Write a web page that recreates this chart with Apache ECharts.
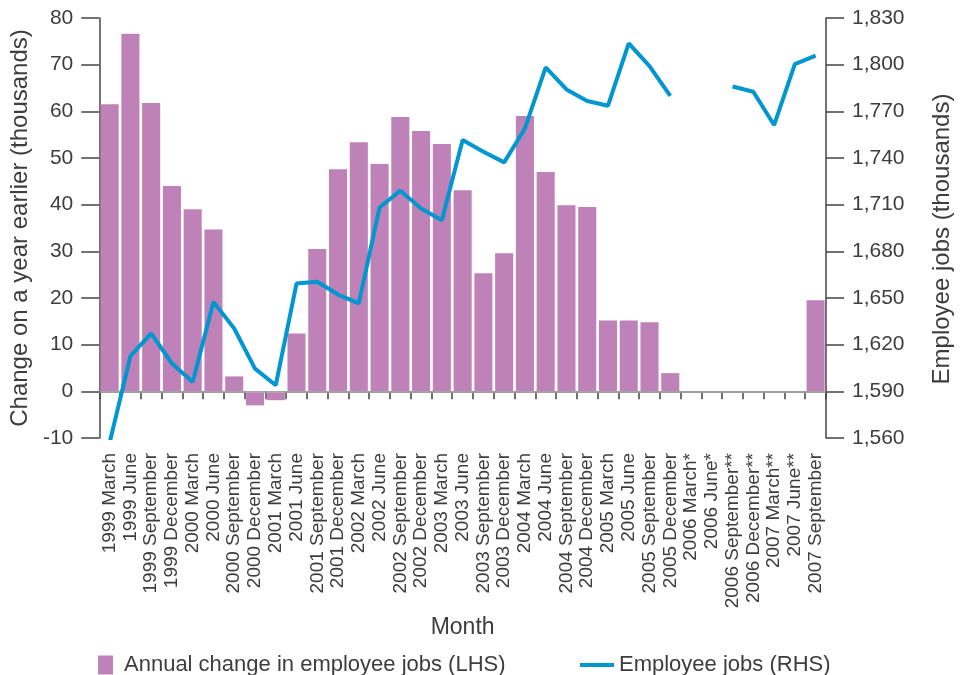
<!DOCTYPE html>
<html><head><meta charset="utf-8">
<script src="https://cdn.jsdelivr.net/npm/echarts@6/dist/echarts.min.js"></script>
<style>html,body{margin:0;padding:0;background:#fff}#c{width:962px;height:675px}</style>
</head><body><div id="c"></div>
<script>
const categories = ["1999 March","1999 June","1999 September","1999 December","2000 March","2000 June","2000 September","2000 December","2001 March","2001 June","2001 September","2001 December","2002 March","2002 June","2002 September","2002 December","2003 March","2003 June","2003 September","2003 December","2004 March","2004 June","2004 September","2004 December","2005 March","2005 June","2005 September","2005 December","2006 March*","2006 June*","2006 September**","2006 December**","2007 March**","2007 June**","2007 September"];
const annualChange = [61.5,76.6,61.8,44.0,39.0,34.7,3.2,-3.0,-1.9,12.4,30.5,47.6,53.4,48.7,58.8,55.8,53.0,43.1,25.3,29.6,59.0,47.0,39.9,39.5,15.2,15.2,14.8,3.9,null,null,null,null,null,null,19.5];
const employeeJobs = [1557,1612.6,1627.2,1607.9,1596,1647.5,1630.4,1604.6,1593.9,1659.3,1660.4,1652.2,1646.5,1708.2,1719,1707.6,1700,1751.5,1744,1737.2,1759,1798.3,1784.1,1776.6,1773.6,1813.7,1799.1,1780,null,null,1786,1782.6,1761.2,1800.4,1805.8];
const leftTicks = {min:-10,max:80,interval:10};
const rightTicks = {min:1560,max:1830,interval:30};
const names = {bar:"Annual change in employee jobs (LHS)", line:"Employee jobs (RHS)", x:"Month", yl:"Change on a year earlier (thousands)", yr:"Employee jobs (thousands)"};

const FONT = "'Liberation Sans', Arial, sans-serif";
const TXT = '#3d3d3d';
const AX = '#444';
const chart = echarts.init(document.getElementById('c'), null, {renderer:'canvas'});
chart.setOption({
  animation:false,
  textStyle:{fontFamily:FONT,color:TXT},
  grid:{left:99,right:136,top:18,bottom:237},
  legend:[
    {data:[names.bar],left:93,top:649,itemWidth:15,itemHeight:19,icon:'rect',
     textStyle:{fontSize:22,color:TXT,fontFamily:FONT,padding:[0,0,0,6]}},
    {data:[names.line],left:575,top:649,itemWidth:34,itemHeight:4,icon:'rect',
     textStyle:{fontSize:22,color:TXT,fontFamily:FONT}}
  ],
  xAxis:{type:'category',data:categories,name:names.x,nameLocation:'middle',nameGap:169,
    nameTextStyle:{fontSize:23,color:TXT,fontFamily:FONT},
    axisLine:{lineStyle:{color:AX,width:1.5}},
    axisTick:{show:true,length:8,lineStyle:{color:AX,width:1.5},alignWithLabel:false},
    axisLabel:{rotate:90,interval:0,fontSize:19,color:TXT,margin:15,fontFamily:FONT}},
  yAxis:[
    {type:'value',min:leftTicks.min,max:leftTicks.max,interval:leftTicks.interval,position:'left',
     name:names.yl,nameLocation:'middle',nameRotate:90,nameGap:56,
     nameTextStyle:{fontSize:24,color:TXT,fontFamily:FONT},
     axisLine:{show:true,lineStyle:{color:AX,width:1.5}},
     axisTick:{show:true,length:18,lineStyle:{color:AX,width:1.5}},
     axisLabel:{fontSize:21,color:TXT,margin:26,fontFamily:FONT},
     splitLine:{show:false}},
    {type:'value',min:rightTicks.min,max:rightTicks.max,interval:rightTicks.interval,position:'right',
     name:names.yr,nameLocation:'middle',nameRotate:90,nameGap:104,
     nameTextStyle:{fontSize:24,color:TXT,fontFamily:FONT,padding:[0,22,0,0]},
     axisLine:{show:true,lineStyle:{color:AX,width:1.5}},
     axisTick:{show:true,length:18,lineStyle:{color:AX,width:1.5}},
     axisLabel:{fontSize:21,color:TXT,margin:26,fontFamily:FONT,
       formatter:v=>v.toLocaleString('en-US')},
     splitLine:{show:false}}
  ],
  series:[
    {name:names.bar,type:'bar',yAxisIndex:0,data:annualChange,barCategoryGap:'13%',
     itemStyle:{color:'#bf82b8'},
     markLine:{silent:true,symbol:'none',label:{show:false},
       lineStyle:{color:'#b0b0b0',width:1.5,type:'solid'},data:[{yAxis:0}]}},
    {name:names.line,type:'line',yAxisIndex:1,data:employeeJobs,connectNulls:false,
     showSymbol:false,symbol:'none',lineStyle:{color:'#0096cf',width:4},itemStyle:{color:'#0096cf'},z:5}
  ]
});
</script></body></html>
